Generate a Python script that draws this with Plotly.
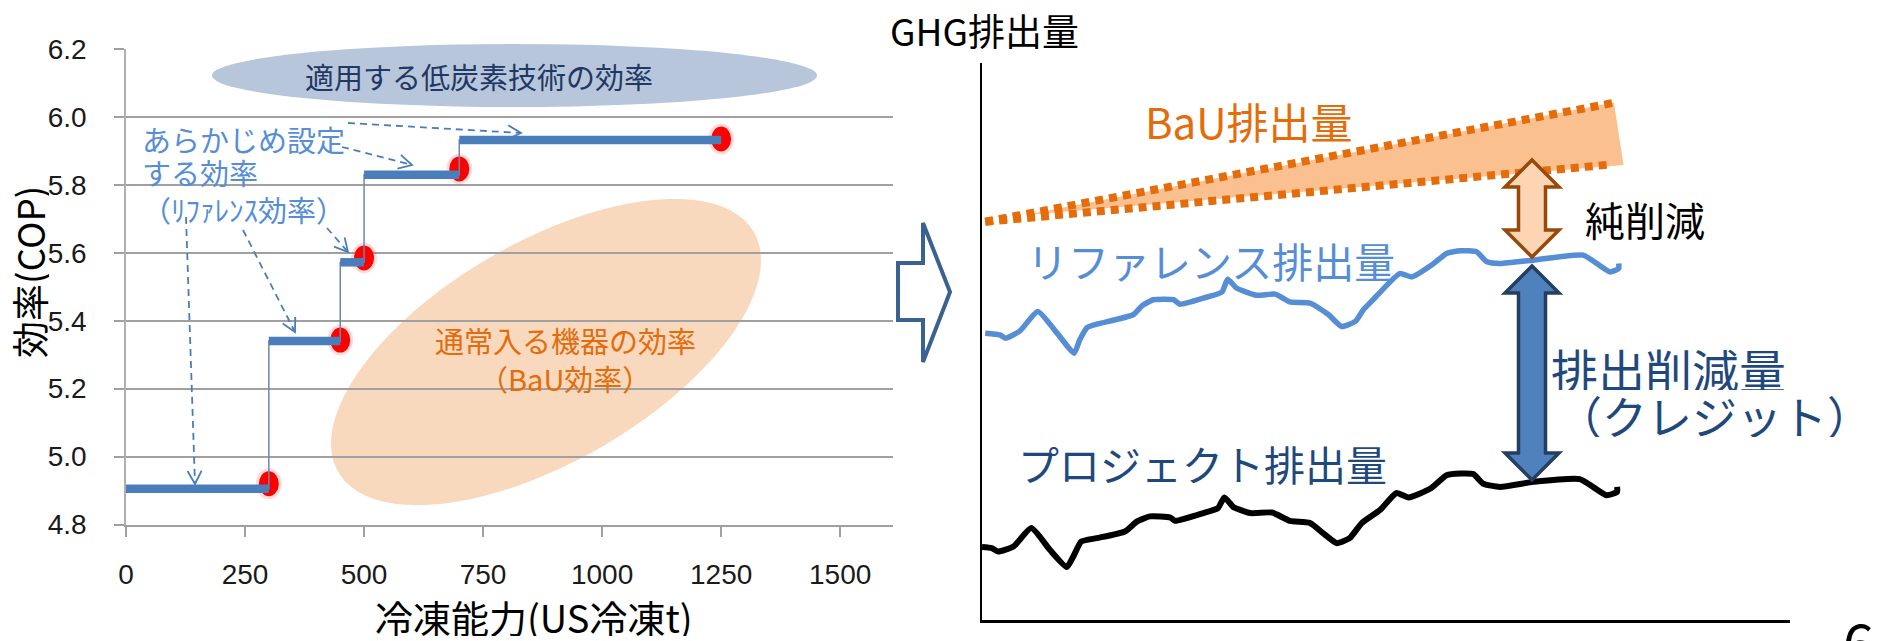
import numpy as np
import plotly.graph_objects as go

W, H = 1886, 641
OFF = 8  # page body offset of the figure in the browser

# ---------------- data: left chart (reference efficiency steps) ----------------
cap_start = [0, 300, 450, 500, 700]          # 冷凍能力 (US冷凍t)
cap_end = [300, 450, 500, 700, 1250]
cop_ref = [4.905, 5.34, 5.572, 5.83, 5.932]  # リファレンス効率 (COP)
dot_cap = [300, 450, 500, 700, 1250]
dot_cop = [4.92, 5.343, 5.585, 5.847, 5.935]
x_ticks = [0, 250, 500, 750, 1000, 1250, 1500]
y_ticks = [4.8, 5.0, 5.2, 5.4, 5.6, 5.8, 6.0, 6.2]

# ---------------- data: right chart (emission schematic) ----------------
ref_t = [0.4, 2.2, 2.9, 4.7, 6.9, 9.3, 11.4, 12.1, 13.0, 14.2, 18.7, 19.8, 21.2, 23.7,
         24.5, 27.4, 29.7, 30.4, 31.5, 34.0, 36.3, 38.1, 40.6, 42.9, 44.5, 46.2, 47.2,
         48.4, 51.7, 53.2, 55.9, 57.5, 59.2, 61.2, 62.5, 64.1, 68.2, 74.4, 77.7, 78.8, 78.8]
ref_e = [51.5, 51.2, 50.6, 51.9, 55.4, 51.5, 47.9, 50.3, 52.5, 53.1, 54.8, 56.4, 57.5, 57.5,
         56.7, 57.8, 58.9, 61.2, 59.6, 58.3, 58.5, 57.1, 56.9, 54.8, 52.7, 53.6, 55.7,
         57.5, 62.2, 61.6, 64.0, 65.8, 66.3, 66.1, 64.3, 64.0, 64.6, 65.5, 62.5, 63.1, 64.0]
proj_t = [0.0, 1.2, 2.0, 3.9, 6.1, 8.4, 10.5, 11.3, 12.3, 14.2, 17.7, 19.2, 20.8, 23.3,
          23.9, 27.4, 29.2, 30.0, 31.1, 33.2, 35.9, 38.1, 40.6, 42.2, 43.9, 45.5, 47.0,
          49.3, 51.3, 52.8, 55.5, 57.5, 59.2, 60.8, 62.0, 64.1, 68.2, 74.0, 77.3, 78.6, 78.6]
proj_e = [13.1, 12.9, 12.3, 13.2, 16.5, 12.6, 9.5, 11.4, 14.1, 14.7, 15.9, 17.7, 18.6, 18.4,
          17.8, 19.2, 20.1, 22.0, 20.3, 19.2, 19.3, 17.8, 17.4, 15.6, 13.8, 14.7, 17.4,
          19.8, 22.8, 22.0, 23.6, 26.0, 26.3, 26.2, 24.5, 23.9, 24.8, 25.3, 22.4, 23.0, 23.9]
bau_t = [0.4, 78.0]
bau_upper = [71.5, 92.8]
bau_lower = [71.5, 81.8]
band_t = [5.2, 78.2, 79.4]
band_e = [72.7, 92.9, 81.7]

JP = "Noto Sans CJK JP"


def px(x):
    return (x - OFF) / W


def py(y):
    return 1 - (y - OFF) / H


fig = go.Figure()

# ---- left chart traces ----
step_x = cap_start + [cap_end[-1]]
step_y = cop_ref + [cop_ref[-1]]
fig.add_trace(go.Scatter(x=step_x, y=step_y, mode="lines", line=dict(color="#6E86AA", width=1.5, shape="hv"),
                         xaxis="x", yaxis="y", hoverinfo="skip", showlegend=False))
bx, by = [], []
for s, e, c in zip(cap_start, cap_end, cop_ref):
    bx += [s, e, None]
    by += [c, c, None]
fig.add_trace(go.Scatter(x=bx, y=by, mode="lines", line=dict(color="#4A7EBB", width=8.5),
                         xaxis="x", yaxis="y", showlegend=False))

# ---- right chart traces ----
fig.add_trace(go.Scatter(x=band_t, y=band_e, mode="lines", fill="toself", fillcolor="#FAC090",
                         line=dict(width=0, color="#FAC090"), xaxis="x2", yaxis="y2", showlegend=False))
for ys in (bau_upper, bau_lower):
    fig.add_trace(go.Scatter(x=bau_t, y=ys, mode="lines", line=dict(color="#E46C0A", width=8, dash="8px,6px"),
                             xaxis="x2", yaxis="y2", showlegend=False))
fig.add_trace(go.Scatter(x=ref_t, y=ref_e, mode="lines", line=dict(color="#558ED5", width=5.5, shape="spline", smoothing=0.5),
                         xaxis="x2", yaxis="y2", showlegend=False))
fig.add_trace(go.Scatter(x=proj_t, y=proj_e, mode="lines", line=dict(color="#000000", width=6, shape="spline", smoothing=0.5),
                         xaxis="x2", yaxis="y2", showlegend=False))

shapes = []

# top ellipse (low carbon technology efficiency)
shapes.append(dict(type="circle", xref="paper", yref="paper", x0=px(212), x1=px(817), y0=py(107), y1=py(44),
                   fillcolor="#B7C6DA", line=dict(width=0), layer="between"))

# rotated orange ellipse (BaU efficiency)
cx, cy, a, b, th = 546, 352, 240, 110, np.deg2rad(30)
tt = np.linspace(0, 2 * np.pi, 90)
ex = cx + a * np.cos(tt) * np.cos(th) + b * np.sin(tt) * np.sin(th)
ey = cy - a * np.cos(tt) * np.sin(th) + b * np.sin(tt) * np.cos(th)
path = "M " + " L ".join(f"{px(u):.5f},{py(v):.5f}" for u, v in zip(ex, ey)) + " Z"
shapes.append(dict(type="path", xref="paper", yref="paper", path=path, fillcolor="#F9D9BD",
                   line=dict(width=0), layer="between"))

# red dots
for xc, yc in zip(dot_cap, dot_cop):
    shapes.append(dict(type="circle", xref="x", yref="y", xsizemode="pixel", ysizemode="pixel",
                       xanchor=xc, yanchor=yc, x0=-13, x1=13, y0=-15.5, y1=15.5,
                       fillcolor="rgba(255,60,60,0.18)", line=dict(width=0), layer="between"))
    shapes.append(dict(type="circle", xref="x", yref="y", xsizemode="pixel", ysizemode="pixel",
                       xanchor=xc, yanchor=yc, x0=-10, x1=10, y0=-12.5, y1=12.5,
                       fillcolor="#FF0000", line=dict(width=0), layer="between"))

# dashed pointer arrows
arrows = [((348, 123), (521, 133)),
          ((342, 147), (412, 165)),
          ((327, 228), (348, 252)),
          ((243, 230), (295, 332)),
          ((186, 217), (195, 484))]
for (x0, y0), (x1, y1) in arrows:
    shapes.append(dict(type="line", xref="paper", yref="paper", x0=px(x0), y0=py(y0), x1=px(x1), y1=py(y1),
                       line=dict(color="#4A7EBB", width=1.8, dash="7px,5px"), layer="above"))
    d = np.array([x1 - x0, y1 - y0], float)
    d /= np.hypot(*d)
    L, ang = 15, np.deg2rad(28)
    pts = []
    for sgn in (1, -1):
        c, s = np.cos(sgn * ang), np.sin(sgn * ang)
        r = np.array([d[0] * c - d[1] * s, d[0] * s + d[1] * c])
        pts.append((x1 - L * r[0], y1 - L * r[1]))
    vp = (f"M {px(pts[0][0]):.5f},{py(pts[0][1]):.5f} L {px(x1):.5f},{py(y1):.5f} "
          f"L {px(pts[1][0]):.5f},{py(pts[1][1]):.5f}")
    shapes.append(dict(type="path", xref="paper", yref="paper", path=vp,
                       line=dict(color="#4A7EBB", width=1.8), layer="above"))

# big outlined arrow between charts
ar = [(898, 263), (923, 263), (923, 223), (950, 292), (923, 362), (923, 320), (898, 320)]
shapes.append(dict(type="path", xref="paper", yref="paper",
                   path="M " + " L ".join(f"{px(u):.5f},{py(v):.5f}" for u, v in ar) + " Z",
                   fillcolor="white", line=dict(color="#3A6190", width=4), layer="above"))


def dbl_arrow(cxp, top, bot, hw=27, hh=27, sw=13.5):
    p = [(cxp, top), (cxp + hw, top + hh), (cxp + sw, top + hh), (cxp + sw, bot - hh), (cxp + hw, bot - hh),
         (cxp, bot), (cxp - hw, bot - hh), (cxp - sw, bot - hh), (cxp - sw, top + hh), (cxp - hw, top + hh)]
    return "M " + " L ".join(f"{px(u):.5f},{py(v):.5f}" for u, v in p) + " Z"


shapes.append(dict(type="path", xref="paper", yref="paper", path=dbl_arrow(1532, 160, 257),
                   fillcolor="#FCD5B5", line=dict(color="#984807", width=3.5), layer="above"))
shapes.append(dict(type="path", xref="paper", yref="paper", path=dbl_arrow(1532, 266, 480),
                   fillcolor="#4F81BD", line=dict(color="#243F60", width=3.5), layer="above"))

annotations = []


def ann(text, x, y, size, color, xanchor="left", angle=0, height=None):
    d = dict(text=text, x=px(x), y=py(y), xref="paper", yref="paper", xanchor=xanchor,
             yanchor="middle", showarrow=False, textangle=angle, borderpad=0,
             font=dict(family=JP, size=size, color=color))
    if height is not None:
        d["height"] = height
    annotations.append(d)


ann("適用する低炭素技術の効率", 479, 76, 29, "#1F3864", "center")
ann("あらかじめ設定", 141, 139, 29, "#558ED5", height=32)
ann("する効率", 141, 172, 29, "#558ED5", height=32)
ann("（ﾘﾌｧﾚﾝｽ効率）", 141, 209, 29, "#558ED5", height=32)
ann("通常入る機器の効率", 565, 340, 29, "#E46C0A", "center", height=34)
ann("（BaU効率）", 565, 378, 29, "#E46C0A", "center", height=34)
ann("効率(COP)", 29, 272, 37, "#000000", "center", -90, height=40)
ann("冷凍能力(US冷凍t)", 534, 616, 38, "#000000", "center", height=40)

ann("GHG排出量", 889, 30, 37, "#000000", height=40)
ann("BaU排出量", 1144, 121, 42, "#E46C0A")
ann("リファレンス排出量", 1026, 260, 41, "#558ED5")
ann("プロジェクト排出量", 1017, 463, 41, "#1F497D")
ann("純削減", 1584, 219, 40, "#000000")
ann("排出削減量", 1550, 368, 47, "#1F497D", height=44)
ann("（クレジット）", 1556, 415, 45, "#1F497D", height=44)
ann("6", 1858, 640, 56, "#000000", "center")

grid_c = "#A0A0A0"
fig.update_layout(
    width=W, height=H, margin=dict(l=0, r=0, t=0, b=0, pad=0, autoexpand=False),
    paper_bgcolor="white", plot_bgcolor="rgba(0,0,0,0)",
    font=dict(family=JP),
    showlegend=False,
    shapes=shapes, annotations=annotations,
    xaxis=dict(domain=[px(126), px(893)], range=[0, 1611], tickvals=x_ticks, showgrid=False, automargin=False,
               showline=True, linecolor=grid_c, linewidth=2, ticks="outside", ticklen=10, tickcolor=grid_c,
               tickwidth=1.5, zeroline=False, ticklabelstandoff=14,
               tickfont=dict(family="Liberation Sans", size=28, color="#1A1A1A"), anchor="y", fixedrange=True),
    yaxis=dict(domain=[py(524.5), py(49)], range=[4.8, 6.2], tickvals=y_ticks, ticktext=[f"{v:.1f}" for v in y_ticks],
               showgrid=True, gridcolor=grid_c, gridwidth=2, showline=True, linecolor="#B0B0B0", linewidth=1.5,
               automargin=False,
               ticks="outside", ticklen=10, tickcolor=grid_c, tickwidth=2, zeroline=False, ticklabelstandoff=22,
               tickfont=dict(family="Liberation Sans", size=28, color="#1A1A1A"), anchor="x", fixedrange=True),
    xaxis2=dict(domain=[px(982), px(1790)], range=[0, 100], showgrid=False, showticklabels=False, ticks="",
                automargin=False,
                showline=True, linecolor="black", linewidth=2.5, zeroline=False, anchor="y2"),
    yaxis2=dict(domain=[py(620), py(63)], range=[0, 100], showgrid=False, showticklabels=False, ticks="",
                automargin=False,
                showline=True, linecolor="black", linewidth=1.5, zeroline=False, anchor="x2"),
)

fig.write_html("out.html")
